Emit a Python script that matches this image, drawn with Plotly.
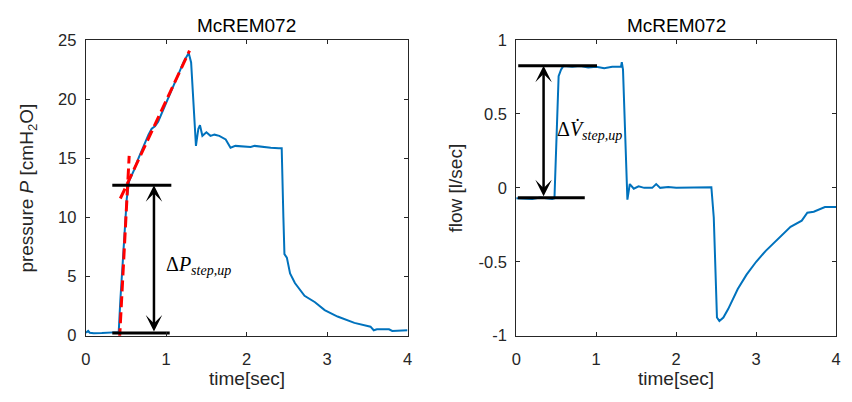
import plotly.graph_objects as go

# ---- pressure step response (left panel) ----
p_time = [0, 0.03, 0.05, 0.1, 0.2, 0.3, 0.41, 0.43, 0.47, 0.51, 0.54, 0.6, 0.655, 0.72,
          0.78, 0.82, 0.86, 0.90, 0.95, 1.0, 1.085, 1.15, 1.22, 1.28, 1.31, 1.37, 1.40,
          1.42, 1.45, 1.50, 1.55, 1.60, 1.66, 1.74, 1.80, 1.86, 1.95, 2.05, 2.1, 2.2,
          2.3, 2.40, 2.436, 2.457, 2.47, 2.50, 2.54, 2.60, 2.66, 2.72, 2.85, 2.97, 3.13,
          3.34, 3.54, 3.58, 3.62, 3.77, 3.81, 4.0]
p_value = [0.25, 0.4, 0.25, 0.2, 0.22, 0.25, 0.3, 3.0, 7.5, 11.6, 13.1, 14.0, 15.0, 16.1,
           17.0, 17.5, 17.7, 18.1, 18.9, 19.7, 21.2, 22.2, 23.2, 23.9, 23.1, 16.05, 17.5,
           17.8, 16.9, 17.2, 16.9, 17.0, 16.9, 16.6, 15.9, 16.05, 16.0, 15.95, 16.05, 15.95,
           15.9, 15.85, 15.85, 10.0, 6.9, 6.6, 5.26, 4.45, 3.9, 3.37, 2.83, 2.16, 1.62,
           1.08, 0.76, 0.46, 0.54, 0.54, 0.40, 0.45]

# fitted slopes (red dashed)
fit1_time = [0.42, 0.54]
fit1_value = [-0.3, 15.2]
fit2_time = [0.43, 1.29]
fit2_value = [11.6, 24.1]

# step level markers
p_levels = [0.22, 12.73]
p_level_start = [0.33, 0.33]
p_level_end = [1.044, 1.064]
p_arrow_time = 0.848

# ---- flow step response (right panel) ----
f_time = [0, 0.1, 0.2, 0.3, 0.4, 0.45, 0.478, 0.50, 0.53, 0.56, 0.59, 0.7, 0.8, 0.9,
          1.0, 1.1, 1.2, 1.31, 1.32, 1.335, 1.39, 1.42, 1.47, 1.53, 1.6, 1.7, 1.75, 1.8,
          1.9, 2.0, 2.2, 2.42, 2.44, 2.47, 2.51, 2.54, 2.59, 2.65, 2.71, 2.77, 2.88, 3.0,
          3.12, 3.29, 3.43, 3.57, 3.64, 3.72, 3.86, 4.0]
f_value = [-0.07, -0.07, -0.075, -0.065, -0.07, -0.075, -0.07, 0.35, 0.755, 0.80, 0.825,
           0.82, 0.825, 0.815, 0.82, 0.81, 0.82, 0.82, 0.85, 0.80, -0.08, 0.026, -0.006,
           0.01, 0.0, 0.0, 0.026, 0.0, 0.005, 0.0, 0.0, 0.0, 0.004, -0.2, -0.877, -0.90,
           -0.877, -0.82, -0.75, -0.684, -0.587, -0.50, -0.426, -0.34, -0.264, -0.222,
           -0.168, -0.161, -0.13, -0.13]

f_levels = [-0.067, 0.826]
f_level_start = [0.02, 0.025]
f_level_end = [0.857, 1.01]
f_arrow_time = 0.342

x_ticks = [0, 1, 2, 3, 4]
p_ticks = [0, 5, 10, 15, 20, 25]
f_ticks = [-1, -0.5, 0, 0.5, 1]
f_tick_text = ["-1", "-0.5", "0", "0.5", "1"]

BLUE = "#0072BD"
AX = "#262626"
W, H = 852, 402
FONT = "Liberation Sans, Arial, sans-serif"
SERIF = "Liberation Serif, DejaVu Serif, serif"
FIT_DASH = "11px,5px"


def px_x(px):
    return px / W


def px_y(py):
    return 1 - py / H


fig = go.Figure()

# left panel
fig.add_trace(go.Scatter(x=p_time, y=p_value, mode="lines",
                         line=dict(color=BLUE, width=2), xaxis="x", yaxis="y"))
fig.add_trace(go.Scatter(x=fit1_time, y=fit1_value, mode="lines",
                         line=dict(color="#FF0000", width=3, dash=FIT_DASH), xaxis="x", yaxis="y"))
fig.add_trace(go.Scatter(x=fit2_time, y=fit2_value, mode="lines",
                         line=dict(color="#FF0000", width=3, dash=FIT_DASH), xaxis="x", yaxis="y"))
for lv, a, b in zip(p_levels, p_level_start, p_level_end):
    fig.add_trace(go.Scatter(x=[a, b], y=[lv, lv], mode="lines",
                             line=dict(color="black", width=3), xaxis="x", yaxis="y"))

# right panel
fig.add_trace(go.Scatter(x=f_time, y=f_value, mode="lines",
                         line=dict(color=BLUE, width=2), xaxis="x2", yaxis="y2"))
for lv, a, b in zip(f_levels, f_level_start, f_level_end):
    fig.add_trace(go.Scatter(x=[a, b], y=[lv, lv], mode="lines",
                             line=dict(color="black", width=3), xaxis="x2", yaxis="y2"))

# double-headed arrows between step levels
for xr, yr, t, lv in (("x", "y", p_arrow_time, p_levels), ("x2", "y2", f_arrow_time, f_levels)):
    fig.add_annotation(x=t, y=lv[1], ax=t, ay=lv[0],
                       xref=xr, yref=yr, axref=xr, ayref=yr, showarrow=True,
                       arrowhead=3, startarrowhead=3, arrowside="end+start",
                       arrowsize=1.1, startarrowsize=1.1, arrowwidth=2.5,
                       arrowcolor="black", text="")

fig.add_annotation(x=0.97, y=5.95, xref="x", yref="y", xanchor="left", yanchor="middle",
                   text="Δ<i>P</i><sub><i>step,up</i></sub>", showarrow=False,
                   font=dict(family=SERIF, size=20, color="black"))
fig.add_annotation(x=0.48, y=0.39, xref="x2", yref="y2", xanchor="left", yanchor="middle",
                   text="Δ<i>V̇</i><sub><i>step,up</i></sub>", showarrow=False,
                   font=dict(family=SERIF, size=20, color="black"))

# axes boxes in paper fraction
xd1 = [px_x(81.7), px_x(407.3)]
xd2 = [px_x(517.3), px_x(841)]
yd = [px_y(342), px_y(32.5)]

axis_common = dict(showline=True, linecolor=AX, linewidth=1, mirror="allticks",
                   ticks="inside", ticklen=4, tickcolor=AX, tickwidth=1,
                   showgrid=False, zeroline=False,
                   tickfont=dict(family=FONT, size=16.5, color=AX))

fig.update_layout(
    width=W, height=H, margin=dict(l=0, r=0, t=0, b=0),
    paper_bgcolor="white", plot_bgcolor="white", showlegend=False,
    xaxis=dict(domain=xd1, range=[0, 4], tickvals=x_ticks, anchor="y",
               ticklabelstandoff=9, **axis_common),
    yaxis=dict(domain=yd, range=[0, 25], tickvals=p_ticks, anchor="x",
               ticklabelstandoff=5, **axis_common),
    xaxis2=dict(domain=xd2, range=[0, 4], tickvals=x_ticks, anchor="y2",
                ticklabelstandoff=9, **axis_common),
    yaxis2=dict(domain=yd, range=[-1, 1], tickvals=f_ticks, ticktext=f_tick_text,
                anchor="x2", ticklabelstandoff=5, **axis_common),
)

title_font = dict(family=FONT, size=19, color="black")
label_font = dict(family=FONT, size=19, color=AX)
for xd in (xd1, xd2):
    cx = (xd[0] + xd[1]) / 2
    fig.add_annotation(x=cx, y=px_y(17), xref="paper", yref="paper", text="McREM072",
                       showarrow=False, font=title_font, xanchor="center", yanchor="middle")
    fig.add_annotation(x=cx, y=px_y(387), xref="paper", yref="paper", text="time[sec]",
                       showarrow=False, font=label_font, xanchor="center", yanchor="middle",
                       borderpad=0)

fig.add_annotation(x=px_x(23), y=(yd[0] + yd[1]) / 2, xref="paper", yref="paper",
                   text="pressure <i>P</i> [cmH<sub>2</sub>O]", textangle=-90,
                   showarrow=False, font=label_font, xanchor="center", yanchor="middle")
fig.add_annotation(x=px_x(456), y=(yd[0] + yd[1]) / 2, xref="paper", yref="paper",
                   text="flow [l/sec]", textangle=-90,
                   showarrow=False, font=label_font, xanchor="center", yanchor="middle")

fig.write_html("out.html")
